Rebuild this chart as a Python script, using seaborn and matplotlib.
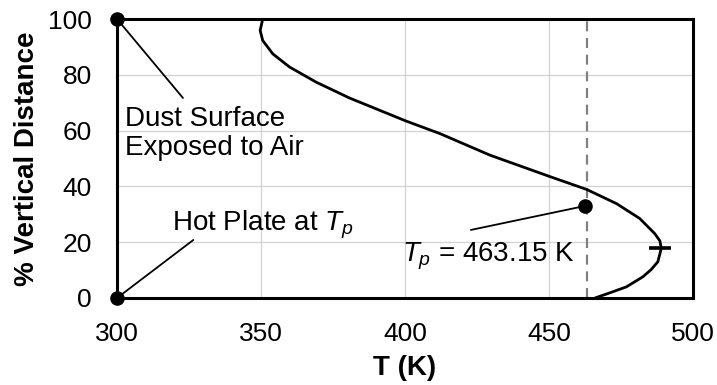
import matplotlib
matplotlib.use("Agg")
import matplotlib.pyplot as plt
import seaborn as sns
import pandas as pd

# Temperature profile through the dust layer
temperature_K = [466.0, 471.0, 476.9, 482.6, 485.5, 487.8, 489.0, 488.5, 486.7,
                 481.5, 473.5, 463.1, 450.1, 429.5, 412.2, 400.2, 380.7, 369.1,
                 359.9, 354.1, 350.6, 349.7, 350.6]
vertical_pct = [0, 1.8, 4, 7.6, 10.2, 13, 17.8, 20.5, 23.1,
                28.5, 33.8, 38.9, 43.6, 51.2, 58.9, 63.5, 71.7, 77.4,
                82.8, 87.5, 92.3, 95.9, 100]

# Reference points
boundary_T = [300, 300]
boundary_pct = [0, 100]
plate_T = 463.15
plate_label_pct = 33
peak_T = 489.0
peak_pct = 17.8

x_ticks = [300, 350, 400, 450, 500]
y_ticks = [0, 20, 40, 60, 80, 100]

sns.set_theme(style="white")
plt.rcParams["font.family"] = ["Liberation Sans", "DejaVu Sans"]
plt.rcParams["mathtext.fontset"] = "custom"
plt.rcParams["mathtext.rm"] = "Liberation Sans"
plt.rcParams["mathtext.it"] = "Liberation Sans:italic"
plt.rcParams["text.color"] = "black"
plt.rcParams["axes.labelcolor"] = "black"

fig = plt.figure(figsize=(7.17, 3.85), dpi=100)
ax = fig.add_axes([0.1632, 0.226, 0.9665 - 0.1632, 0.9506 - 0.226])

profile = pd.DataFrame({"T": temperature_K, "pct": vertical_pct})

ax.axvline(plate_T, color="#808080", lw=1.6, dashes=(4.5, 3.0), zorder=2)

sns.lineplot(data=profile, x="T", y="pct", sort=False, estimator=None,
             color="black", lw=2.0, ax=ax, zorder=3,
             solid_joinstyle="round", solid_capstyle="round")

# leader lines
ax.plot([300, 322.9], [100, 71.7], color="black", lw=1.3, zorder=3)
ax.plot([300, 326.5], [0, 20.8], color="black", lw=1.3, zorder=3)
ax.plot([plate_T - 0.6, 422.9], [plate_label_pct, 24.4], color="black", lw=1.3, zorder=3)

dots = pd.DataFrame({"T": boundary_T + [plate_T - 0.6],
                     "pct": boundary_pct + [plate_label_pct]})
sns.scatterplot(data=dots, x="T", y="pct", color="black", s=110,
                edgecolor="black", linewidth=0, ax=ax, zorder=5, clip_on=False)

ax.plot([peak_T - 0.3], [peak_pct], marker="_", color="black", markersize=16.5,
        mew=2.6, zorder=5, clip_on=False)

ax.text(302.8, 58.8, "Dust Surface\nExposed to Air", fontsize=20,
        ha="left", va="center", linespacing=1.15, zorder=4)
ax.text(319.0, 24.3, r"Hot Plate at $T_p$", fontsize=20,
        ha="left", va="baseline", zorder=4)
ax.text(398.8, 13.0, r"$T_p$ = 463.15 K", fontsize=20,
        ha="left", va="baseline", zorder=4)

ax.set_xlim(300, 500)
ax.set_ylim(0, 100)
ax.set_xticks(x_ticks)
ax.set_yticks(y_ticks)
ax.set_xticklabels([str(t) for t in x_ticks])
ax.set_yticklabels([str(t) for t in y_ticks])
ax.grid(True, color="#d2d2d2", lw=0.9)
ax.set_axisbelow(True)
ax.tick_params(axis="both", length=0, labelsize=19, colors="black")
ax.tick_params(axis="x", pad=17)
ax.tick_params(axis="y", pad=18)

for side in ["left", "bottom", "top", "right"]:
    ax.spines[side].set_visible(True)
    ax.spines[side].set_color("black")
    ax.spines[side].set_linewidth(2.2)

ax.set_xlabel("T (K)", fontsize=20, fontweight="bold", labelpad=7)
ax.set_ylabel("% Vertical Distance", fontsize=20, fontweight="bold", labelpad=6)

fig.savefig("out.png", dpi=100)
